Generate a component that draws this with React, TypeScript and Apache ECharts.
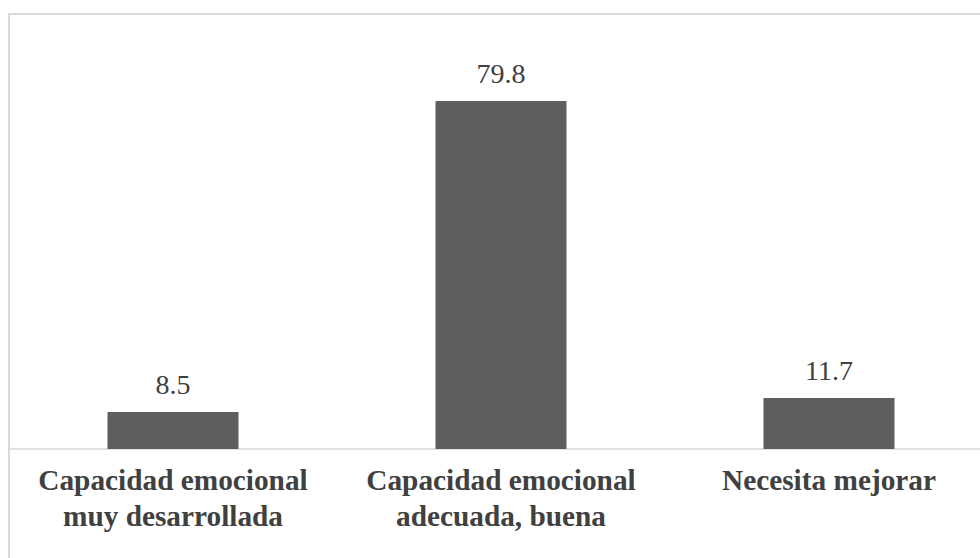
import React, { useEffect, useRef } from "react";
import * as echarts from "echarts";

// Categories and percentages shown on the bars
const categories: string[] = [
  "Capacidad emocional\nmuy desarrollada",
  "Capacidad emocional\nadecuada, buena",
  "Necesita mejorar",
];
const percentages: number[] = [8.5, 79.8, 11.7];

const SERIF = "'Liberation Serif', 'Times New Roman', serif";

export default function App() {
  const ref = useRef<HTMLDivElement>(null);

  useEffect(() => {
    if (!ref.current) return;
    const chart = echarts.init(ref.current, null, { renderer: "svg" });
    chart.setOption({
      animation: false,
      backgroundColor: "#ffffff",
      textStyle: { fontFamily: SERIF },
      graphic: [
        {
          // outer frame; its right and bottom edges fall outside the view
          type: "rect",
          shape: { x: 9, y: 14, width: 1040, height: 600 },
          style: { fill: "none", stroke: "#d9d9d9", lineWidth: 2 },
          silent: true,
        },
      ],
      grid: { left: 9, width: 984, top: 56.4, height: 392.6 },
      xAxis: {
        type: "category",
        data: categories,
        axisLine: { show: true, lineStyle: { color: "#d9d9d9", width: 1.5 } },
        axisTick: { show: false },
        axisLabel: {
          interval: 0,
          margin: 13,
          color: "#404040",
          fontFamily: SERIF,
          fontWeight: "bold",
          fontSize: 29.3,
          lineHeight: 36,
        },
      },
      yAxis: {
        type: "value",
        min: 0,
        max: 90,
        show: false,
        splitLine: { show: false },
      },
      series: [
        {
          type: "bar",
          data: percentages,
          barWidth: 131,
          itemStyle: { color: "#5e5e5e" },
          label: {
            show: true,
            position: "top",
            distance: 13,
            color: "#404040",
            fontFamily: SERIF,
            fontSize: 28,
            formatter: (p: any) => p.value.toFixed(1),
          },
        },
      ],
    });
    return () => chart.dispose();
  }, []);

  return (
    <div
      style={{
        position: "absolute",
        left: 0,
        top: 0,
        width: 980,
        height: 558,
        overflow: "hidden",
      }}
    >
      <div ref={ref} style={{ width: 1040, height: 558 }} />
    </div>
  );
}
